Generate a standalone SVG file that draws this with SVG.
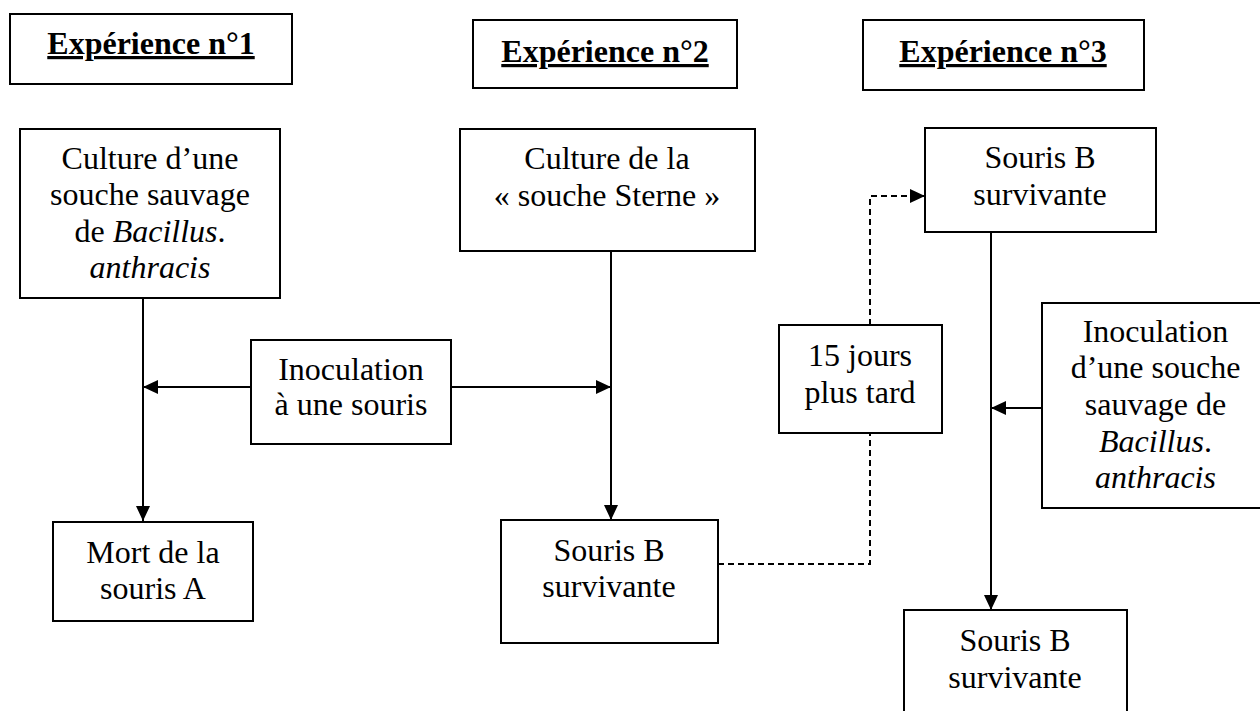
<svg xmlns="http://www.w3.org/2000/svg" width="1260" height="711" viewBox="0 0 1260 711">
<style>
  .box { fill: #ffffff; stroke: #000000; stroke-width: 2; }
  .t { font-family: "Liberation Serif", "Times New Roman", serif; font-size: 32px; fill: #000000; text-anchor: middle; }
  .title { font-weight: bold; text-decoration: underline; }
  .it { font-style: italic; }
  .conn { fill: none; stroke: #000000; stroke-width: 2; }
  .dash { stroke-dasharray: 6 4; }
</style>
<defs>
  <marker id="arrow" markerUnits="userSpaceOnUse" markerWidth="15" markerHeight="14" refX="15" refY="7" orient="auto">
    <path d="M0,0 L15,7 L0,14 z" fill="#000000"/>
  </marker>
</defs>
<rect width="1260" height="711" fill="#ffffff"/>

<g id="connectors">
  <line class="conn" x1="143" y1="298" x2="143" y2="521" marker-end="url(#arrow)"/>
  <line class="conn" x1="251" y1="387" x2="143" y2="387" marker-end="url(#arrow)"/>
  <line class="conn" x1="451" y1="387" x2="611" y2="387" marker-end="url(#arrow)"/>
  <line class="conn" x1="611" y1="251" x2="611" y2="520" marker-end="url(#arrow)"/>
  <polyline class="conn dash" points="718,564 870,564 870,433"/>
  <polyline class="conn dash" points="870,325 870,196 925,196" marker-end="url(#arrow)"/>
  <line class="conn" x1="991" y1="232" x2="991" y2="610" marker-end="url(#arrow)"/>
  <line class="conn" x1="1042" y1="408" x2="991" y2="408" marker-end="url(#arrow)"/>
</g>

<g id="title1">
  <rect class="box" x="10" y="14" width="282" height="70"/>
  <text class="t title" x="151" y="54">Expérience n°1</text>
</g>
<g id="title2">
  <rect class="box" x="473" y="20" width="264" height="68"/>
  <text class="t title" x="605" y="62">Expérience n°2</text>
</g>
<g id="title3">
  <rect class="box" x="863" y="20" width="281" height="70"/>
  <text class="t title" x="1003" y="62">Expérience n°3</text>
</g>

<g id="culture1">
  <rect class="box" x="20" y="129" width="260" height="169"/>
  <text class="t" x="150" y="169">Culture d’une</text>
  <text class="t" x="150" y="205">souche sauvage</text>
  <text class="t" x="150" y="241.5">de <tspan class="it">Bacillus</tspan>.</text>
  <text class="t it" x="150" y="278">anthracis</text>
</g>

<g id="mort">
  <rect class="box" x="53" y="522" width="200" height="99"/>
  <text class="t" x="153" y="563">Mort de la</text>
  <text class="t" x="153" y="599">souris A</text>
</g>

<g id="inoculation1">
  <rect class="box" x="251" y="340" width="200" height="104"/>
  <text class="t" x="351" y="380">Inoculation</text>
  <text class="t" x="351" y="415">à une souris</text>
</g>

<g id="culture2">
  <rect class="box" x="460" y="129" width="295" height="122"/>
  <text class="t" x="607" y="169">Culture de la</text>
  <text class="t" x="607" y="206">« souche Sterne »</text>
</g>

<g id="sourisB2">
  <rect class="box" x="501" y="520" width="217" height="123"/>
  <text class="t" x="609" y="561">Souris B</text>
  <text class="t" x="609" y="597">survivante</text>
</g>

<g id="delay">
  <rect class="box" x="779" y="325" width="163" height="108"/>
  <text class="t" x="860" y="366">15 jours</text>
  <text class="t" x="860" y="403">plus tard</text>
</g>

<g id="sourisB3">
  <rect class="box" x="925" y="128" width="231" height="104"/>
  <text class="t" x="1040" y="168">Souris B</text>
  <text class="t" x="1040" y="205">survivante</text>
</g>

<g id="inoculation3">
  <rect class="box" x="1042" y="303" width="240" height="205"/>
  <text class="t" x="1155.5" y="342">Inoculation</text>
  <text class="t" x="1155.5" y="378">d’une souche</text>
  <text class="t" x="1155.5" y="415">sauvage de</text>
  <text class="t" x="1155.5" y="452"><tspan class="it">Bacillus</tspan>.</text>
  <text class="t it" x="1155.5" y="488">anthracis</text>
</g>

<g id="sourisB4">
  <rect class="box" x="904" y="610" width="223" height="120"/>
  <text class="t" x="1015" y="651">Souris B</text>
  <text class="t" x="1015" y="688">survivante</text>
</g>
</svg>
